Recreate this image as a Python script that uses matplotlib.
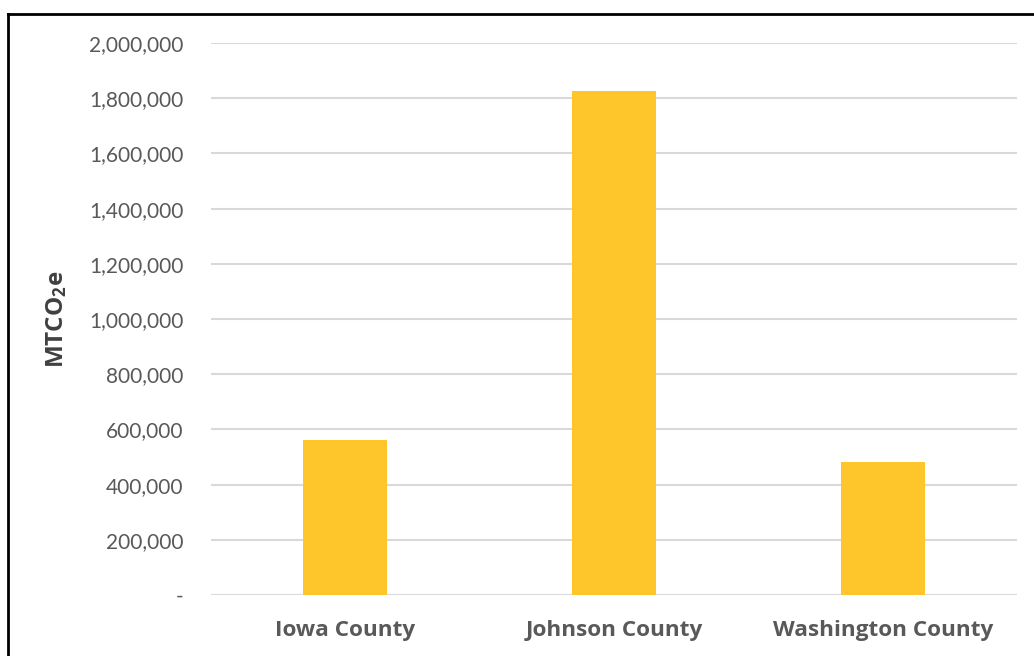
import matplotlib
matplotlib.use("Agg")
import matplotlib.pyplot as plt
from matplotlib.ticker import FuncFormatter
from matplotlib.lines import Line2D

categories = ["Iowa County", "Johnson County", "Washington County"]
values = [562000, 1826000, 483000]
yticks = [0, 200000, 400000, 600000, 800000, 1000000, 1200000, 1400000, 1600000, 1800000, 2000000]

plt.rcParams['font.family'] = ['Lato', 'DejaVu Sans']
plt.rcParams['mathtext.fontset'] = 'custom'
plt.rcParams['mathtext.rm'] = 'Open Sans'
plt.rcParams['mathtext.bf'] = 'Open Sans:bold'

fig = plt.figure(figsize=(10.34, 6.56), dpi=100)
ax = fig.add_axes([211/1034, 61/656, 806/1034, 552/656])

x = range(len(categories))
ax.bar(x, values, width=0.313, color="#FFC62C", zorder=3)
ax.set_xlim(-0.5, len(categories) - 0.5)
ax.set_ylim(0, 2000000)
ax.set_yticks(yticks)
ax.yaxis.set_major_formatter(FuncFormatter(lambda v, p: "-" if v == 0 else f"{int(v):,}"))
ax.set_xticks(list(x))
ax.set_xticklabels(categories, fontsize=16.2, fontweight="bold", color="#595959",
                   family=['Open Sans', 'DejaVu Sans'])
ax.tick_params(axis="y", labelsize=15, labelcolor="#595959", length=0, pad=20)
ax.tick_params(axis="x", length=0, pad=18)
ax.grid(axis="y", color="#D9D9D9", linewidth=1.5, zorder=0)
for s in ax.spines.values():
    s.set_visible(False)

ax.set_ylabel(r"$\mathbf{MTCO_2e}$", fontsize=17.5, color="#404040", labelpad=14)

# frame lines (top and left)
fig.add_artist(Line2D([8/1034, 1.0], [1 - 13.5/656, 1 - 13.5/656], transform=fig.transFigure, color="black", linewidth=2))
fig.add_artist(Line2D([8/1034, 8/1034], [0.0, 1 - 13.5/656], transform=fig.transFigure, color="black", linewidth=2))

fig.savefig("out.png", dpi=100)
